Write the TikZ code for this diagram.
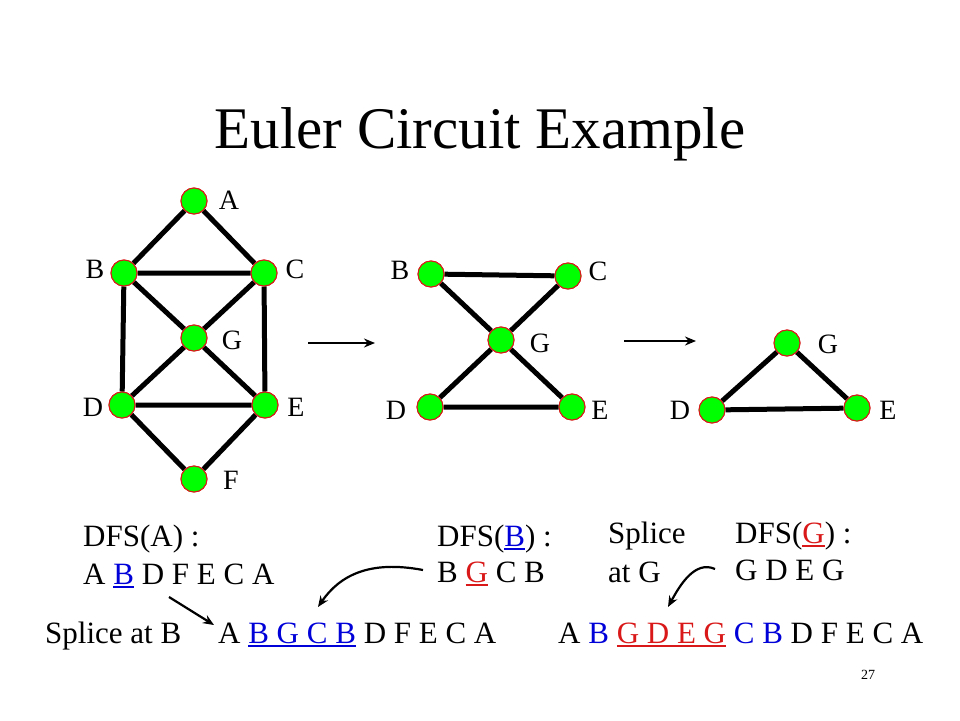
\documentclass[tikz,border=0pt]{standalone}
\usepackage{fontspec}
\setmainfont{Liberation Serif}
\usetikzlibrary{arrows.meta}
\definecolor{vgreen}{rgb}{0,1,0}
\definecolor{vred}{rgb}{0.85,0.1,0.1}
\definecolor{vblue}{rgb}{0,0,0.85}
\tikzset{
  vtx/.style={circle,fill=vgreen,draw=vred,line width=1pt,minimum size=26pt,inner sep=0pt},
  edg/.style={line width=5pt},
  lbl/.style={font=\fontsize{28}{30}\selectfont,inner sep=0pt},
  txt/.style={font=\fontsize{31}{34}\selectfont,inner sep=0pt,anchor=base west},
  stepto/.style={line width=2.2pt,-{Stealth[length=11pt,width=9pt]}}
}
\newcommand{\bl}[1]{\textcolor{vblue}{#1}}
\newcommand{\rd}[1]{\textcolor{vred}{#1}}
\newcommand{\ul}[1]{\leavevmode\vtop{\hbox{#1}\kern1.5pt\hrule height 2.5pt}}
\begin{document}
\begin{tikzpicture}[x=1pt,y=-1pt]
		\useasboundingbox (0,0) rectangle (960,720);
		\node[font=\fontsize{59}{64}\selectfont,inner sep=0pt,anchor=base] (title) at (480,148) {Euler Circuit Example};
		% first graph
		\node[vtx] (a1) at (194,201) {};
		\node[vtx] (b1) at (124,273) {};
		\node[vtx] (c1) at (264,273) {};
		\node[vtx] (g1) at (194,338) {};
		\node[vtx] (d1) at (122,405) {};
		\node[vtx] (e1) at (265,405) {};
		\node[vtx] (f1) at (194,479) {};
		\draw[edg] (a1) -- (b1) (a1) -- (c1) (b1) -- (c1) (b1) -- (d1) (c1) -- (e1)
		  (b1) -- (g1) (c1) -- (g1) (g1) -- (d1) (g1) -- (e1) (d1) -- (e1) (d1) -- (f1) (e1) -- (f1);
		\foreach \v in {a1,b1,c1,g1,d1,e1,f1} \node[vtx] at (\v) {};
		\node[lbl] (la1) at (229,200) {A};
		\node[lbl] (lb1) at (95,269) {B};
		\node[lbl] (lc1) at (295,269) {C};
		\node[lbl] (lg1) at (232,340) {G};
		\node[lbl] (ld1) at (93,407) {D};
		\node[lbl] (le1) at (296,407) {E};
		\node[lbl] (lf1) at (231,480) {F};
		% second graph
		\node[vtx] (b2) at (431,274) {};
		\node[vtx] (c2) at (568,276) {};
		\node[vtx] (g2) at (501,340) {};
		\node[vtx] (d2) at (430,407) {};
		\node[vtx] (e2) at (572,407) {};
		\draw[edg] (b2) -- (c2) (b2) -- (g2) (c2) -- (g2) (g2) -- (d2) (g2) -- (e2) (d2) -- (e2);
		\foreach \v in {b2,c2,g2,d2,e2} \node[vtx] at (\v) {};
		\node[lbl] (lb2) at (400,270) {B};
		\node[lbl] (lc2) at (598,271) {C};
		\node[lbl] (lg2) at (540,343) {G};
		\node[lbl] (ld2) at (396,410) {D};
		\node[lbl] (le2) at (600,410) {E};
		% third graph
		\node[vtx] (g3) at (787,343) {};
		\node[vtx] (d3) at (712,410) {};
		\node[vtx] (e3) at (857,408) {};
		\draw[edg] (g3) -- (d3) (g3) -- (e3) (d3) -- (e3);
		\foreach \v in {g3,d3,e3} \node[vtx] at (\v) {};
		\node[lbl] (lg3) at (828,344) {G};
		\node[lbl] (ld3) at (680,410) {D};
		\node[lbl] (le3) at (888,410) {E};
		% reduction arrows
		\coordinate (s1) at (308,343);
		\coordinate (t1) at (375,343);
		\coordinate (s2) at (624,341);
		\coordinate (t2) at (696,341);
		\draw[stepto] (s1) -- (t1);
		\draw[stepto] (s2) -- (t2);
		% traversals
		\node[txt] (dfsa) at (83,546) {DFS(A) :};
		\node[txt] (tra) at (83,584) {A \bl{\ul{B}} D F E C A};
		\node[txt] (dfsb) at (437,546) {DFS(\bl{\ul{B}}) :};
		\node[txt] (trb) at (437,582) {B \rd{\ul{G}} C B};
		\node[txt] (spl1) at (608,543) {Splice};
		\node[txt] (spl2) at (608,582) {at G};
		\node[txt] (dfsg) at (735,543) {DFS(\rd{\ul{G}}) :};
		\node[txt] (trg) at (735,580) {G D E G};
		\node[txt] (splb) at (45,643) {Splice at B};
		\node[txt] (res1) at (218,643) {A \bl{\ul{B G C B}} D F E C A};
		\node[txt] (res2) at (558,643) {A \bl{B} \rd{\ul{G D E G}} \bl{C B} D F E C A};
		\coordinate (p1) at (169,597);
		\coordinate (q1) at (214,625);
		\coordinate (p2) at (423,570);
		\coordinate (q2) at (318,607);
		\coordinate (p3) at (715,569);
		\coordinate (q3) at (668,607);
		\draw[stepto] (p1) -- (q1);
		\draw[stepto] (p2) .. controls (370,560) and (340,575) .. (q2);
		\draw[stepto] (p3) .. controls (695,560) and (680,585) .. (q3);
		\node[font=\fontsize{14}{16}\selectfont,inner sep=0pt] (pg) at (868,675) {27};
\end{tikzpicture}
\end{document}
